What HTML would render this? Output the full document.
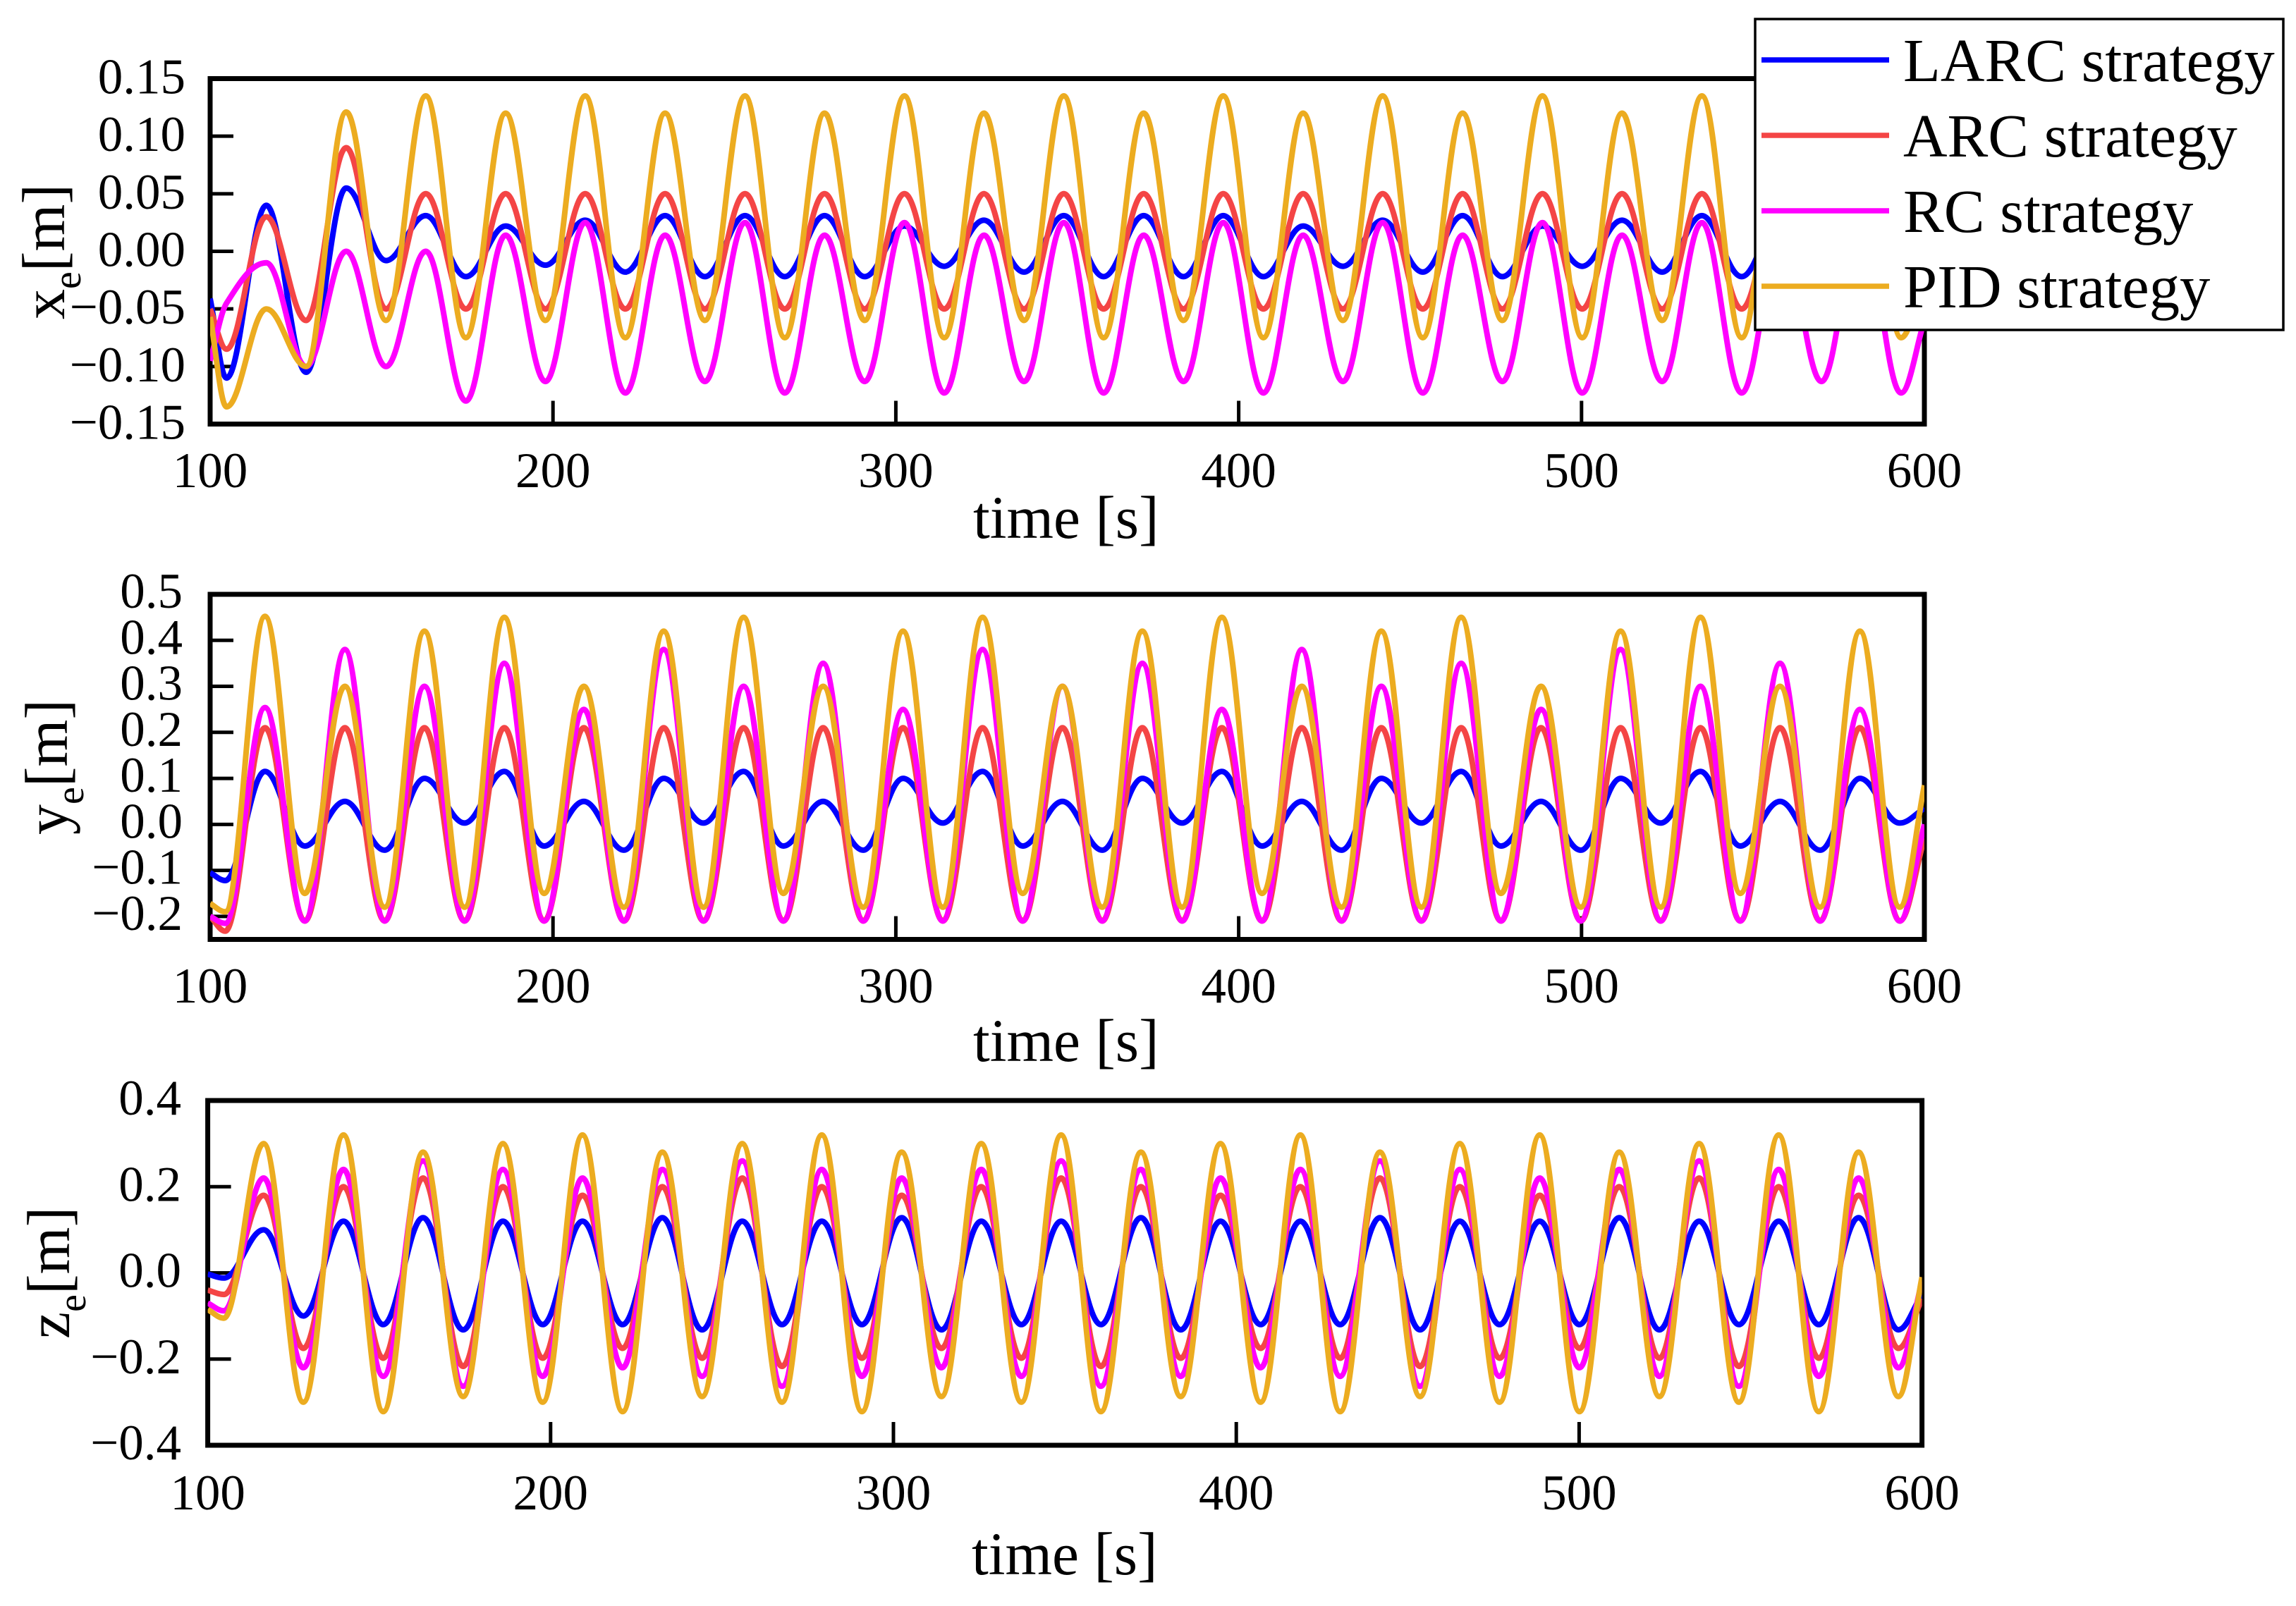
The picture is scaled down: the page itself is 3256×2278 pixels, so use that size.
<!DOCTYPE html>
<html lang="en">
<head>
<meta charset="utf-8">
<title>Tracking errors by control strategy</title>
<style>
html,body{margin:0;padding:0;background:#fff}
svg{display:block;font-family:"Liberation Serif",serif;fill:#000}
</style>
</head>
<body>
<svg id="chart" xmlns="http://www.w3.org/2000/svg" width="3256" height="2278" viewBox="0 0 3256 2278">
  <rect width="3256" height="2278" fill="#fff"/>
  <g id="plots"></g>

  <text x="1380" y="763" font-size="85.5">time [s]</text>
  <text x="1380" y="1505" font-size="85.5">time [s]</text>
  <text x="1378" y="2233" font-size="85.5">time [s]</text>

  <text transform="translate(91,453) rotate(-90)" font-size="86">x<tspan font-size="56" dy="23">e</tspan><tspan dy="-23">[m]</tspan></text>
  <text transform="translate(95,1184) rotate(-90)" font-size="86">y<tspan font-size="56" dy="23">e</tspan><tspan dy="-23">[m]</tspan></text>
  <text transform="translate(98,1899) rotate(-90)" font-size="86">z<tspan font-size="56" dy="23">e</tspan><tspan dy="-23">[m]</tspan></text>

  <g>
    <rect x="2489" y="27" width="749" height="441" fill="#fff" stroke="#000" stroke-width="3.5"/>
    <line x1="2498" y1="85" x2="2679" y2="85" stroke="#0000ff" stroke-width="7.5"/>
    <text x="2699" y="115" font-size="86.6">LARC strategy</text>
    <line x1="2498" y1="192" x2="2679" y2="192" stroke="#f44545" stroke-width="7.5"/>
    <text x="2699" y="222" font-size="86.6">ARC strategy</text>
    <line x1="2498" y1="299" x2="2679" y2="299" stroke="#ff00ff" stroke-width="7.5"/>
    <text x="2699" y="329" font-size="86.6">RC strategy</text>
    <line x1="2498" y1="406" x2="2679" y2="406" stroke="#ecac20" stroke-width="7.5"/>
    <text x="2699" y="436" font-size="86.6">PID strategy</text>
  </g>
</svg>

<script>
// Time of each read-off value: start, every successive peak / trough, end [s]
const knotTimes = [100,
  104.8,116.4,128.0,139.7,151.3,162.9,174.6,186.2,197.8,209.4,221.1,
  232.7,244.3,256.0,267.6,279.2,290.9,302.5,314.1,325.7,337.4,349.0,
  360.6,372.3,383.9,395.5,407.2,418.8,430.4,442.0,453.7,465.3,476.9,
  488.6,500.2,511.8,523.5,535.1,546.7,558.3,570.0,581.6,593.2,
  600];

const xTickLabels = [100,200,300,400,500,600];
const xeTickValues = [0.15,0.10,0.05,0.00,-0.05,-0.10,-0.15];
const xeTickLabels = ["0.15","0.10","0.05","0.00","\u22120.05","\u22120.10","\u22120.15"];
const yeTickValues = [0.5,0.4,0.3,0.2,0.1,0.0,-0.1,-0.2];
const yeTickLabels = ["0.5","0.4","0.3","0.2","0.1","0.0","\u22120.1","\u22120.2"];
const zeTickValues = [0.4,0.2,0.0,-0.2,-0.4];
const zeTickLabels = ["0.4","0.2","0.0","\u22120.2","\u22120.4"];

// x_e [m]
const xeLarc = [-.041,
  -.11,.04,-.105,.055,-.008,.031,-.022,.022,-.012,.027,-.018,
  .031,-.022,.031,-.022,.031,-.022,.022,-.013,.027,-.018,.031,
  -.022,.031,-.022,.031,-.022,.022,-.013,.027,-.018,.031,-.022,
  .022,-.013,.027,-.018,.031,-.022,.031,-.022,.031,-.022,
  -.01];
const xeArc = [-.05,
  -.085,.03,-.06,.09,-.05,.05,-.05,.05,-.05,.05,-.05,
  .05,-.05,.05,-.05,.05,-.05,.05,-.05,.05,-.05,.05,
  -.05,.05,-.05,.05,-.05,.05,-.05,.05,-.05,.05,-.05,
  .05,-.05,.05,-.05,.05,-.05,.05,-.05,.05,-.05,
  -.01];
const xeRc = [-.095,
  -.045,-.01,-.10,0,-.10,0,-.13,.014,-.113,.025,-.123,
  .014,-.113,.025,-.123,.014,-.113,.025,-.123,.014,-.113,.025,
  -.123,.014,-.113,.025,-.123,.014,-.113,.025,-.123,.014,-.113,
  .025,-.123,.014,-.113,.025,-.123,.014,-.113,.025,-.123,
  -.06];
const xePid = [-.057,
  -.135,-.05,-.10,.121,-.06,.135,-.075,.12,-.06,.135,-.075,
  .12,-.06,.135,-.075,.12,-.06,.135,-.075,.12,-.06,.135,
  -.075,.12,-.06,.135,-.075,.12,-.06,.135,-.075,.12,-.06,
  .135,-.075,.12,-.06,.135,-.075,.12,-.06,.135,-.075,
  -.02];

// y_e [m]
const yeLarc = [-.105,
  -.122,.115,-.047,.05,-.056,.10,0.003,.115,-.047,.05,-.056,
  .10,0.003,.115,-.047,.05,-.056,.10,0.003,.115,-.047,.05,
  -.056,.10,0.003,.115,-.047,.05,-.056,.10,0.003,.115,-.047,
  .05,-.056,.10,0.003,.115,-.047,.05,-.056,.10,0.003,
  .035];
const yeArc = [-.20,
  -.232,.21,-.21,.21,-.21,.21,-.21,.21,-.21,.21,-.21,
  .21,-.21,.21,-.21,.21,-.21,.21,-.21,.21,-.21,.21,
  -.21,.21,-.21,.21,-.21,.21,-.21,.21,-.21,.21,-.21,
  .21,-.21,.21,-.21,.21,-.21,.21,-.21,.21,-.21,
  -.03];
const yeRc = [-.20,
  -.215,.254,-.21,.38,-.21,.30,-.21,.35,-.21,.25,-.21,
  .38,-.21,.30,-.21,.35,-.21,.25,-.21,.38,-.21,.30,
  -.21,.35,-.21,.25,-.21,.38,-.21,.30,-.21,.35,-.21,
  .25,-.21,.38,-.21,.30,-.21,.35,-.21,.25,-.21,
  .0];
const yePid = [-.172,
  -.19,.452,-.15,.30,-.18,.42,-.18,.45,-.15,.30,-.18,
  .42,-.18,.45,-.15,.30,-.18,.42,-.18,.45,-.15,.30,
  -.18,.42,-.18,.45,-.15,.30,-.18,.42,-.18,.45,-.15,
  .30,-.18,.42,-.18,.45,-.15,.30,-.18,.42,-.18,
  .085];

// z_e [m]
const zeLarc = [-.003,
  -.012,.10,-.10,.12,-.12,.128,-.132,.12,-.12,.12,-.12,
  .128,-.132,.12,-.12,.12,-.12,.128,-.132,.12,-.12,.12,
  -.12,.128,-.132,.12,-.12,.12,-.12,.128,-.132,.12,-.12,
  .12,-.12,.128,-.132,.12,-.12,.12,-.12,.128,-.132,
  -.05];
const zeArc = [-.04,
  -.05,.18,-.175,.20,-.198,.22,-.217,.20,-.198,.18,-.175,
  .20,-.198,.22,-.217,.20,-.198,.18,-.175,.20,-.198,.22,
  -.217,.20,-.198,.18,-.175,.20,-.198,.22,-.217,.20,-.198,
  .18,-.175,.20,-.198,.22,-.217,.20,-.198,.18,-.175,
  -.06];
const zeRc = [-.07,
  -.088,.22,-.22,.24,-.24,.26,-.263,.24,-.24,.22,-.22,
  .24,-.24,.26,-.263,.24,-.24,.22,-.22,.24,-.24,.26,
  -.263,.24,-.24,.22,-.22,.24,-.24,.26,-.263,.24,-.24,
  .22,-.22,.24,-.24,.26,-.263,.24,-.24,.22,-.22,
  -.02];
const zePid = [-.085,
  -.105,.30,-.30,.32,-.322,.28,-.287,.30,-.30,.32,-.322,
  .28,-.287,.30,-.30,.32,-.322,.28,-.287,.30,-.30,.32,
  -.322,.28,-.287,.30,-.30,.32,-.322,.28,-.287,.30,-.30,
  .32,-.322,.28,-.287,.30,-.30,.32,-.322,.28,-.287,
  -.01];

const seriesStyles = [
  {key:'larc', color:'#0000ff'},
  {key:'arc',  color:'#f44545'},
  {key:'rc',   color:'#ff00ff'},
  {key:'pid',  color:'#ecac20'}
];

const panels = [
  {id:'xe', left:298, right:2729, top:111.5, bottom:601.5, yMin:-.15, yMax:.15, tShift:0,
   tickValues:xeTickValues, tickLabels:xeTickLabels, series:[xeLarc,xeArc,xeRc,xePid], xLabelY:691, yLabelX:263, yLabelDy:21},
  {id:'ye', left:298, right:2729, top:843, bottom:1332.5, yMin:-.25, yMax:.5, tShift:-.4,
   tickValues:yeTickValues, tickLabels:yeTickLabels, series:[yeLarc,yeArc,yeRc,yePid], xLabelY:1422, yLabelX:259, yLabelDy:19},
  {id:'ze', left:294.6, right:2725.6, top:1561, bottom:2050, yMin:-.4, yMax:.4, tShift:-.1,
   tickValues:zeTickValues, tickLabels:zeTickLabels, series:[zeLarc,zeArc,zeRc,zePid], xLabelY:2141, yLabelX:257, yLabelDy:20}
];

const NS = 'http://www.w3.org/2000/svg';
const root = document.getElementById('plots');
const LABEL_FONT = 71;
const TICK_LEN = 33;
const FRAME_W = 7;
const LINE_W = 8;
const SINE_K = 0.364; // Bezier handle length that makes a half-wave look sinusoidal

function make(tag, attrs, parent){
  const el = document.createElementNS(NS, tag);
  for (const k in attrs) el.setAttribute(k, attrs[k]);
  parent.appendChild(el);
  return el;
}
function xAxis(p){ return t => p.left + (t - 100) / 500 * (p.right - p.left); }
function yAxis(p){ return v => p.bottom - (v - p.yMin) / (p.yMax - p.yMin) * (p.bottom - p.top); }

function curvePath(times, values, sx, sy){
  const n = values.length, d = [], m = [];
  for (let i = 0; i < n - 1; i++) d.push((values[i+1] - values[i]) / (times[i+1] - times[i]));
  m[0] = d[0];
  m[n-1] = d[n-2];
  for (let i = 1; i < n - 1; i++){
    m[i] = d[i-1] * d[i] <= 0 ? 0 : 2 * d[i-1] * d[i] / (d[i-1] + d[i]);
  }
  let s = 'M' + sx(times[0]).toFixed(1) + ' ' + sy(values[0]).toFixed(1);
  for (let i = 0; i < n - 1; i++){
    const h = (times[i+1] - times[i]) * SINE_K;
    s += 'C' + sx(times[i] + h).toFixed(1) + ' ' + sy(values[i] + m[i] * h).toFixed(1) +
         ' ' + sx(times[i+1] - h).toFixed(1) + ' ' + sy(values[i+1] - m[i+1] * h).toFixed(1) +
         ' ' + sx(times[i+1]).toFixed(1) + ' ' + sy(values[i+1]).toFixed(1);
  }
  return s;
}

panels.forEach(function(p){
  const sx = xAxis(p), sy = yAxis(p);
  const g = make('g', {}, root);
  
  

  const defs = make('defs', {}, g);
  const clip = make('clipPath', {id:'clip-' + p.id}, defs);
  make('rect', {x:p.left, y:p.top, width:p.right - p.left, height:p.bottom - p.top}, clip);

  xTickLabels.forEach(function(t){
    if (t > 100 && t < 600){
      const tick = make('line', {x1:sx(t), x2:sx(t), y1:p.bottom, y2:p.bottom - TICK_LEN, stroke:'#000', 'stroke-width':5}, g);
      
      
    }
    const label = make('text', {x:sx(t), y:p.xLabelY, 'font-size':LABEL_FONT, 'text-anchor':'middle'}, g);
    label.textContent = t;
    
    
  });

  p.tickValues.forEach(function(v, i){
    const y = sy(v);
    if (v > p.yMin && v < p.yMax){
      const tick = make('line', {x1:p.left, x2:p.left + TICK_LEN, y1:y, y2:y, stroke:'#000', 'stroke-width':5}, g);
      
      
    }
    const label = make('text', {x:p.yLabelX, y:y + p.yLabelDy, 'font-size':LABEL_FONT, 'text-anchor':'end'}, g);
    label.textContent = p.tickLabels[i];
    
    
  });

  const frame = make('rect', {x:p.left, y:p.top, width:p.right - p.left, height:p.bottom - p.top, fill:'none', stroke:'#000', 'stroke-width':FRAME_W}, g);
  
  

  const times = knotTimes.map(function(t, i){
    return (i === 0 || i === knotTimes.length - 1) ? t : t + p.tShift;
  });
  const lines = make('g', {'clip-path':'url(#clip-' + p.id + ')'}, g);
  p.series.forEach(function(values, i){
    const style = seriesStyles[i];
    const path = make('path', {d:curvePath(times, values, sx, sy), fill:'none', stroke:style.color, 'stroke-width':LINE_W, 'stroke-linejoin':'round'}, lines);
    
    
  });
});
</script>
</body>
</html>
